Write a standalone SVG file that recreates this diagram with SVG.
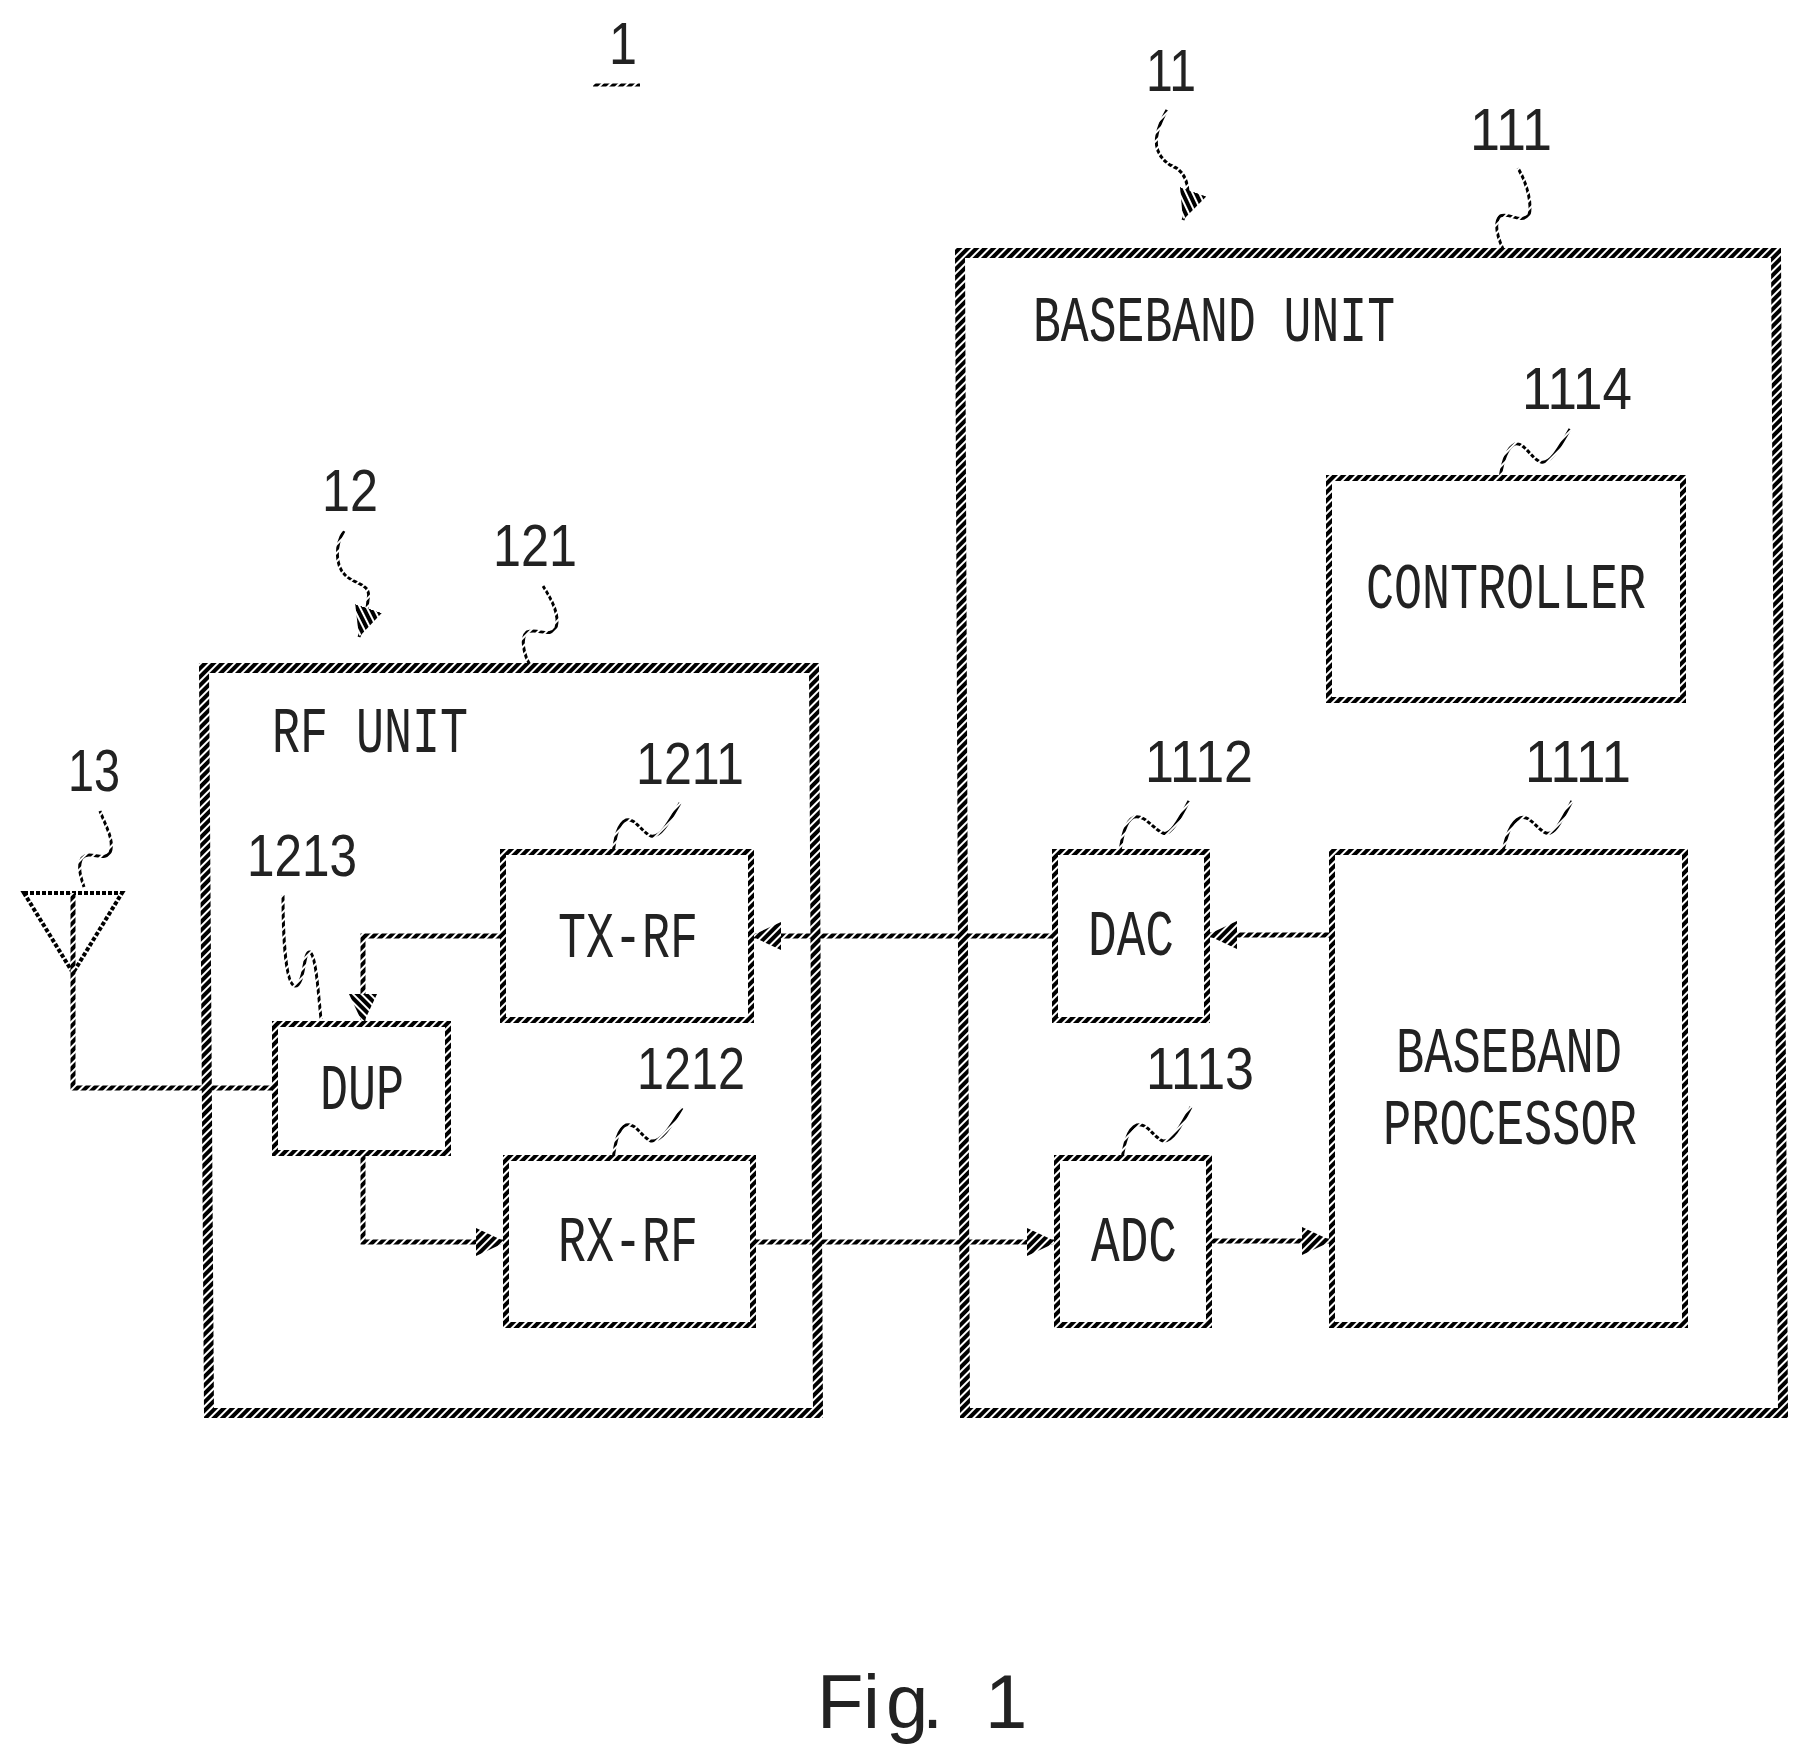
<svg xmlns="http://www.w3.org/2000/svg" width="1805" height="1759" viewBox="0 0 1805 1759">
<style>
.bg{fill:#fff}
.outer{fill:none;stroke:url(#h);stroke-width:10}
.box{fill:none;stroke:url(#h);stroke-width:6}
.wire{fill:none;stroke:url(#h);stroke-width:5}
.ant{fill:none;stroke:#000;stroke-width:4;stroke-dasharray:4 2}
.lead{fill:none;stroke:url(#h);stroke-width:3}
text{fill:#222;font-family:"Liberation Mono",monospace;font-size:64px}
.n{font-family:"Liberation Sans",Arial,sans-serif;font-size:60px}
</style>
<defs>
<pattern id="h" width="6" height="6" patternUnits="userSpaceOnUse" patternTransform="rotate(45)"><rect width="6" height="6" fill="#fff"/><rect width="4" height="6" fill="#000"/></pattern>
<marker id="a" viewBox="0 0 30 28" refX="30" refY="14" markerWidth="30" markerHeight="28" markerUnits="userSpaceOnUse" orient="auto"><path d="M0 0L30 14L0 28Z" fill="url(#h)"/></marker>
</defs>
<rect class="bg" width="1805" height="1759"/>
<g id="connectors">
<path class="wire" d="M503 936H363V1024" marker-end="url(#a)"/>
<path class="wire" d="M1055 936H751" marker-end="url(#a)"/>
<path class="wire" d="M1332 935H1207" marker-end="url(#a)"/>
<path class="wire" d="M363 1153V1242H506" marker-end="url(#a)"/>
<path class="wire" d="M753 1242H1057" marker-end="url(#a)"/>
<path class="wire" d="M1209 1241H1332" marker-end="url(#a)"/>
<path class="wire" d="M275 1088H73V973"/>
</g>
<g id="leaders">
<path class="lead" d="M1167 110C1150 140 1155 155 1170 165C1190 172 1192 195 1183 220" marker-end="url(#a)"/>
<path class="lead" d="M1518 168C1528 185 1532 205 1529 215C1520 224 1510 212 1500 216C1493 224 1498 238 1503 249"/>
<path class="lead" d="M1570 429C1558 450 1550 464 1541 462C1532 460 1525 442 1515 444C1506 448 1502 465 1500 478"/>
<path class="lead" d="M1189 801C1178 822 1170 836 1163 833C1154 830 1145 814 1134 817C1125 821 1122 838 1120 851"/>
<path class="lead" d="M1572 801C1561 822 1554 836 1546 833C1537 830 1530 814 1520 818C1510 822 1506 838 1503 851"/>
<path class="lead" d="M1191 1107C1180 1128 1172 1142 1163 1141C1154 1138 1147 1122 1137 1125C1127 1129 1124 1146 1122 1159"/>
<path class="lead" d="M344 531C335 545 335 565 345 575C355 585 372 583 368 600C367 615 363 625 359 637" marker-end="url(#a)"/>
<path class="lead" d="M543 586C552 600 560 615 556 628C550 638 538 628 527 632C520 638 524 655 530 665"/>
<path class="lead" d="M100 811C105 825 115 840 110 853C103 862 90 850 82 858C77 866 81 878 84 887"/>
<path class="lead" d="M680 803C668 824 660 838 651 836C642 833 635 817 626 820C617 824 615 840 613 853"/>
<path class="lead" d="M682 1108C670 1128 661 1142 651 1141C642 1138 636 1122 626 1125C617 1129 615 1146 613 1159"/>
<path class="lead" d="M283 895C283 930 285 985 295 986C305 986 303 950 310 952C316 956 318 990 321 1019"/>
<path class="lead" d="M593 85H640"/>
</g>
<g id="unit-11">
<polygon class="outer" points="960,253 1776,253 1783,1413 965,1413"/>
<text x="1033" y="341" textLength="362" lengthAdjust="spacingAndGlyphs">BASEBAND UNIT</text>
</g>
<g id="unit-12">
<polygon class="outer" points="204,668 814,668 818,1413 209,1413"/>
<text x="272" y="752" textLength="196" lengthAdjust="spacingAndGlyphs">RF UNIT</text>
</g>
<g id="controller"><rect class="box" x="1329" y="478" width="354" height="222"/>
<text x="1366" y="608" textLength="280" lengthAdjust="spacingAndGlyphs">CONTROLLER</text></g>
<g id="baseband-processor"><rect class="box" x="1332" y="852" width="353" height="473"/>
<text x="1396" y="1072" textLength="226" lengthAdjust="spacingAndGlyphs">BASEBAND</text>
<text x="1383" y="1144" textLength="254" lengthAdjust="spacingAndGlyphs">PROCESSOR</text></g>
<g id="dac"><rect class="box" x="1055" y="852" width="152" height="168"/>
<text x="1088" y="955" textLength="86" lengthAdjust="spacingAndGlyphs">DAC</text></g>
<g id="adc"><rect class="box" x="1057" y="1158" width="152" height="167"/>
<text x="1091" y="1261" textLength="86" lengthAdjust="spacingAndGlyphs">ADC</text></g>
<g id="tx-rf"><rect class="box" x="503" y="852" width="248" height="168"/>
<text x="558" y="957" textLength="140" lengthAdjust="spacingAndGlyphs">TX-RF</text></g>
<g id="rx-rf"><rect class="box" x="506" y="1158" width="247" height="167"/>
<text x="558" y="1261" textLength="140" lengthAdjust="spacingAndGlyphs">RX-RF</text></g>
<g id="dup"><rect class="box" x="275" y="1024" width="173" height="129"/>
<text x="320" y="1109" textLength="84" lengthAdjust="spacingAndGlyphs">DUP</text></g>
<g id="antenna"><polygon class="ant" points="24,893 122,893 73,973"/><path class="wire" d="M73 893V973"/></g>
<g id="labels">
<text class="n" x="609" y="64" textLength="28" lengthAdjust="spacingAndGlyphs">1</text>
<text class="n" x="1146" y="91" textLength="50" lengthAdjust="spacingAndGlyphs">11</text>
<text class="n" x="1470" y="150" textLength="82" lengthAdjust="spacingAndGlyphs">111</text>
<text class="n" x="1522" y="409" textLength="110" lengthAdjust="spacingAndGlyphs">1114</text>
<text class="n" x="1145" y="782" textLength="108" lengthAdjust="spacingAndGlyphs">1112</text>
<text class="n" x="1525" y="782" textLength="106" lengthAdjust="spacingAndGlyphs">1111</text>
<text class="n" x="1146" y="1089" textLength="108" lengthAdjust="spacingAndGlyphs">1113</text>
<text class="n" x="322" y="511" textLength="56" lengthAdjust="spacingAndGlyphs">12</text>
<text class="n" x="493" y="566" textLength="84" lengthAdjust="spacingAndGlyphs">121</text>
<text class="n" x="68" y="791" textLength="52" lengthAdjust="spacingAndGlyphs">13</text>
<text class="n" x="636" y="784" textLength="108" lengthAdjust="spacingAndGlyphs">1211</text>
<text class="n" x="637" y="1089" textLength="108" lengthAdjust="spacingAndGlyphs">1212</text>
<text class="n" x="247" y="876" textLength="110" lengthAdjust="spacingAndGlyphs">1213</text>
<text class="n" style="font-size:76px" x="817 863 886 922 950 985" y="1728">Fig. 1</text>
</g>
</svg>
